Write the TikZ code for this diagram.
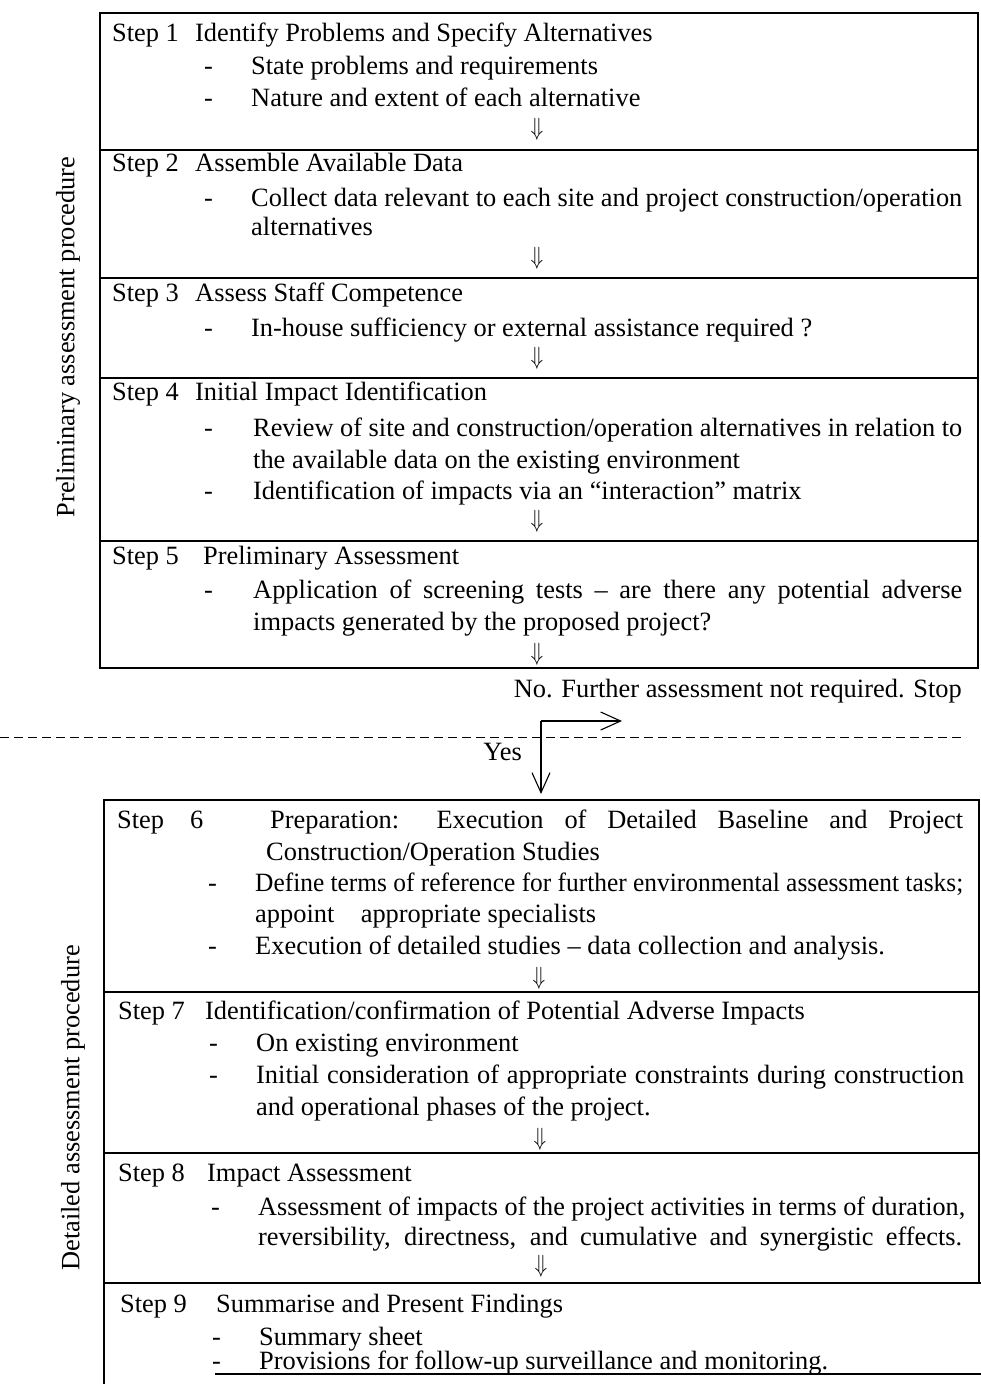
\documentclass[tikz,border=0pt]{standalone}
\usepackage{graphicx}
\usepackage{fontspec}
\setmainfont{Liberation Serif}
\usetikzlibrary{arrows.meta}
\tikzset{
  txt/.style={anchor=base west, inner sep=0pt},
  dwn/.style={inner sep=0pt, anchor=south, font=\fontsize{22}{24}\selectfont},
  frame/.style={line width=1.2pt},
  flow/.style={line width=1.1pt, -{Straight Barb[length=20pt,width=18pt,line width=1.1pt]}},
}
\newsavebox\linebox
\newcommand{\jline}[2]{\sbox\linebox{#2}\ifdim\wd\linebox>#1pt\resizebox{#1pt}{\ht\linebox}{\usebox\linebox}\else\makebox[#1pt][s]{#2}\fi}
\newcommand{\dn}{\scalebox{1}[1.2]{$\Downarrow$}}

\begin{document}
\begin{tikzpicture}[x=1pt,y=-1pt,font=\fontsize{26.4}{32}\selectfont]
\useasboundingbox (0,0) rectangle (981,1384);
\draw[frame] (100,13) rectangle (978,668);
\draw[frame] (100,150) -- (978,150);
\draw[frame] (100,278) -- (978,278);
\draw[frame] (100,378) -- (978,378);
\draw[frame] (100,541) -- (978,541);
\draw[frame] (104,1384) -- (104,800) -- (979,800) -- (979,1283);
\draw[frame] (104,992) -- (979,992);
\draw[frame] (104,1153) -- (979,1153);
\draw[frame] (104,1283) -- (981,1283);
\draw[frame] (215,1374) -- (981,1374);
\draw[line width=1pt, dash pattern=on 9pt off 5pt] (0,737) -- (966,737);
\node[rotate=90] (pre) at (68,337) {Preliminary assessment procedure};
\node[rotate=90] (det) at (73,1108) {Detailed assessment procedure};
\node[txt] (s1a) at (112,41) {Step 1};
\node[txt] (s1t) at (195,41) {Identify Problems and Specify Alternatives};
\node[txt] (s1m1) at (204,74) {-};
\node[txt] (s1b1) at (251,74) {State problems and requirements};
\node[txt] (s1m2) at (204,106) {-};
\node[txt] (s1b2) at (251,106) {Nature and extent of each alternative};
\node[dwn] (s1d) at (537,141) {\dn};
\node[txt] (s2a) at (112,171) {Step 2};
\node[txt] (s2t) at (195,171) {Assemble Available Data};
\node[txt] (s2m1) at (204,206) {-};
\node[txt] (s2b1) at (251,206) {\jline{711}{Collect data relevant to each site and project construction/operation}};
\node[txt] (s2b2) at (251,235) {alternatives};
\node[dwn] (s2d) at (537,270) {\dn};
\node[txt] (s3a) at (112,301) {Step 3};
\node[txt] (s3t) at (195,301) {Assess Staff Competence};
\node[txt] (s3m1) at (204,336) {-};
\node[txt] (s3b1) at (251,336) {In-house sufficiency or external assistance required ?};
\node[dwn] (s3d) at (537,370) {\dn};
\node[txt] (s4a) at (112,400) {Step 4};
\node[txt] (s4t) at (195,400) {Initial Impact Identification};
\node[txt] (s4m1) at (204,436) {-};
\node[txt] (s4b1) at (253,436) {\jline{709}{Review of site and construction/operation alternatives in relation to}};
\node[txt] (s4b2) at (253,468) {the available data on the existing environment};
\node[txt] (s4m2) at (204,499) {-};
\node[txt] (s4b3) at (253,499) {Identification of impacts via an \char"201C interaction\char"201D{} matrix};
\node[dwn] (s4d) at (537,533) {\dn};
\node[txt] (s5a) at (112,564) {Step 5};
\node[txt] (s5t) at (203,564) {Preliminary Assessment};
\node[txt] (s5m1) at (204,598) {-};
\node[txt] (s5b1) at (253,598) {\jline{709}{Application of screening tests -- are there any potential adverse}};
\node[txt] (s5b2) at (253,630) {impacts generated by the proposed project?};
\node[dwn] (s5d) at (537,666) {\dn};
\node[anchor=base east, inner sep=0pt] (no) at (962,697) {No. Further assessment not required. Stop};
\node[anchor=base east, inner sep=0pt] (yes) at (522,760) {Yes};
\coordinate (fork) at (541,721);
\coordinate (stop) at (622,721);
\coordinate (go) at (541,794);
\draw[flow] (fork) -- (stop);
\draw[flow] (fork) -- (go);
\node[txt] (s6a) at (117,828) {Step};
\node[txt] (s6n) at (190,828) {6};
\node[txt] (s6t) at (270,828) {\jline{693}{Preparation: Execution of Detailed Baseline and Project}};
\node[txt] (s6t2) at (266,860) {Construction/Operation Studies};
\node[txt] (s6m1) at (208,891) {-};
\node[txt] (s6b1) at (255,891) {\jline{708}{Define terms of reference for further environmental assessment tasks;}};
\node[txt] (s6b2) at (255,922) {appoint\quad appropriate specialists};
\node[txt] (s6m2) at (208,954) {-};
\node[txt] (s6b3) at (255,954) {Execution of detailed studies -- data collection and analysis.};
\node[dwn] (s6d) at (539,990) {\dn};
\node[txt] (s7a) at (118,1019) {Step 7};
\node[txt] (s7t) at (205,1019) {Identification/confirmation of Potential Adverse Impacts};
\node[txt] (s7m1) at (209,1051) {-};
\node[txt] (s7b1) at (256,1051) {On existing environment};
\node[txt] (s7m2) at (209,1083) {-};
\node[txt] (s7b2) at (256,1083) {\jline{708}{Initial consideration of appropriate constraints during construction}};
\node[txt] (s7b3) at (256,1115) {and operational phases of the project.};
\node[dwn] (s7d) at (540,1151) {\dn};
\node[txt] (s8a) at (118,1181) {Step 8};
\node[txt] (s8t) at (207,1181) {Impact Assessment};
\node[txt] (s8m1) at (211,1215) {-};
\node[txt] (s8b1) at (258,1215) {\jline{707}{Assessment of impacts of the project activities in terms of duration,}};
\node[txt] (s8b2) at (258,1245) {\jline{704}{reversibility, directness, and cumulative and synergistic effects.}};
\node[dwn] (s8d) at (541,1278) {\dn};
\node[txt] (s9a) at (120,1312) {Step 9};
\node[txt] (s9t) at (216,1312) {Summarise and Present Findings};
\node[txt] (s9m1) at (212,1345) {-};
\node[txt] (s9b1) at (259,1345) {Summary sheet};
\node[txt] (s9m2) at (212,1369) {-};
\node[txt] (s9b2) at (259,1369) {Provisions for follow-up surveillance and monitoring.};
\end{tikzpicture}
\end{document}
